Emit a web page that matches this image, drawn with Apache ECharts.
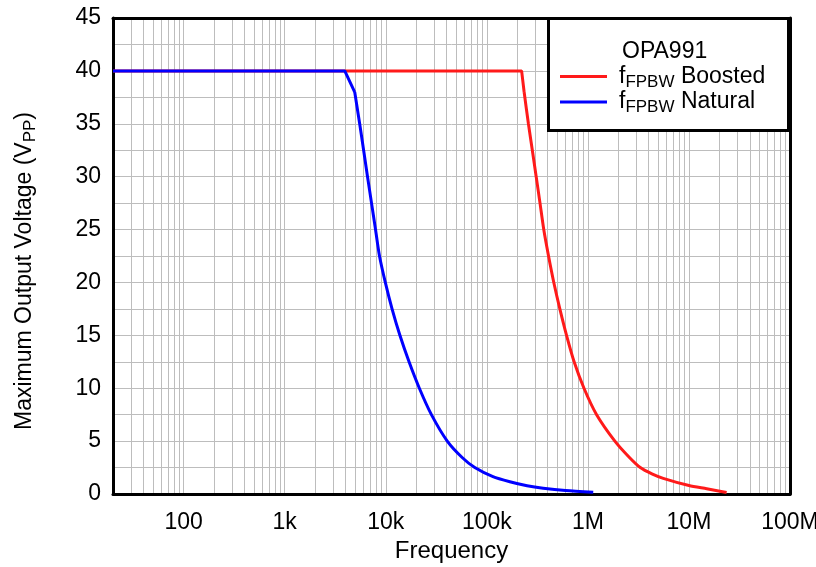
<!DOCTYPE html>
<html>
<head>
<meta charset="utf-8">
<script src="https://cdn.jsdelivr.net/npm/echarts@6/dist/echarts.min.js"></script>
<style>html,body{margin:0;padding:0;background:#fff}#c{width:816px;height:567px}</style>
</head>
<body>
<div id="c"></div>
<script>
// ---- data (frequency in Hz, maximum output voltage in Vpp) ----
// the first 3 points of each curve are the flat limit and the knee (straight), the rest is the roll-off
const naturalFreq = [20, 3930, 4930, 5520, 6040, 6600, 7230, 7920, 8670, 9900, 11540, 13800, 17000, 21500, 28300, 40600, 57000, 76000, 115000, 169000, 250000, 361000, 600000, 1130000];
const naturalV    = [40, 40, 38.0, 35, 32.5, 30, 27.5, 25, 22.5, 20, 17.5, 15, 12.5, 10, 7.5, 5, 3.45, 2.5, 1.64, 1.16, 0.78, 0.54, 0.32, 0.16];
const boostedFreq = [20, 221000, 234000, 258000, 282000, 308000, 336000, 366000, 408000, 460000, 528000, 615000, 731000, 915000, 1220000, 1850000, 2550000, 3300000, 4300000, 5570000, 10000000, 15000000, 23600000];
const boostedV    = [40, 40, 38.0, 35, 32.5, 30, 27.5, 25, 22.5, 20, 17.5, 15, 12.5, 10, 7.5, 5, 3.5, 2.5, 1.9, 1.48, 0.8, 0.5, 0.15];
const kneeCount = 3;
const xTickValues = [100, 1e3, 1e4, 1e5, 1e6, 1e7, 1e8];
const xTickLabels = ['100', '1k', '10k', '100k', '1M', '10M', '100M'];
const yTicks = [0, 5, 10, 15, 20, 25, 30, 35, 40, 45];

const lg = Math.log10;
const xMin = lg(20), xMax = 8;
// log-spaced grid lines
const gridVals = [];
for (let d = 1; d <= 7; d++) for (let k = 1; k <= 9; k++) {
  const f = k * Math.pow(10, d);
  if (f >= 20 && f <= 1e8) gridVals.push(lg(f));
}
gridVals.push(8);

const toPts = (fs, vs) => fs.map((f, i) => [lg(f), vs[i]]);
const labelMap = {};
xTickValues.forEach((v, i) => labelMap[lg(v).toFixed(3)] = xTickLabels[i]);

const natPts = toPts(naturalFreq, naturalV);
const booPts = toPts(boostedFreq, boostedV);

const font = 'Liberation Sans, Arial, sans-serif';
const subRich = {
  m: { fontFamily: font, fontSize: 23, color: '#000', lineHeight: 28 },
  s: { fontFamily: font, fontSize: 17, color: '#000', lineHeight: 16, verticalAlign: 'bottom' },
  g: { width: 7, lineHeight: 28 }
};
const RED = '#ff1a1a', BLUE = '#0000ff';
const lineSeries = (name, data, color, smooth, z) => ({
  name, type: 'line', data, showSymbol: false, smooth,
  lineStyle: { color, width: 3 }, itemStyle: { color }, z
});
const chart = echarts.init(document.getElementById('c'));
chart.setOption({
  animation: false,
  grid: { left: 113, top: 18, right: 26, bottom: 73, containLabel: false, outerBoundsMode: 'none' },
  xAxis: [{
    type: 'value', min: xMin, max: xMax,
    name: 'Frequency', nameLocation: 'middle', nameGap: 45,
    nameTextStyle: { fontFamily: font, fontSize: 24, color: '#000' },
    axisLine: { show: true, lineStyle: { color: '#000', width: 3 } },
    axisTick: { show: false, customValues: gridVals },
    axisLabel: { customValues: xTickValues.map(lg), margin: 17, fontFamily: font, fontSize: 23, color: '#000',
      formatter: v => labelMap[v.toFixed(3)] || '' },
    splitLine: { show: true, lineStyle: { color: '#bdbdbd', width: 1 } }
  }, {
    type: 'value', min: xMin, max: xMax, position: 'top',
    axisLine: { show: true, onZero: false, lineStyle: { color: '#000', width: 3 } },
    axisTick: { show: false }, axisLabel: { show: false }, splitLine: { show: false }
  }],
  yAxis: [{
    type: 'value', min: 0, max: 45, interval: 2.5,
    name: '{m|Maximum Output Voltage (V}{s|PP}{m|)}', nameLocation: 'middle', nameGap: 74,
    nameTextStyle: { fontFamily: font, fontSize: 23, color: '#000', rich: subRich, padding: [0, 30, 0, 0] },
    axisLine: { show: true, lineStyle: { color: '#000', width: 3 } },
    axisTick: { show: false },
    axisLabel: { margin: 12, fontFamily: font, fontSize: 23, color: '#000',
      formatter: v => yTicks.indexOf(v) >= 0 ? String(v) : '' },
    splitLine: { show: true, lineStyle: { color: '#bdbdbd', width: 1 } }
  }, {
    type: 'value', min: 0, max: 45, position: 'right',
    axisLine: { show: true, onZero: false, lineStyle: { color: '#000', width: 3 } },
    axisTick: { show: false }, axisLabel: { show: false }, splitLine: { show: false }
  }],
  legend: {
    orient: 'vertical', left: 555, top: 60, itemGap: 0, z: 30,
    icon: 'rect', itemWidth: 47, itemHeight: 3,
    textStyle: { fontFamily: font, fontSize: 23, color: '#000', rich: subRich },
    formatter: n => n === 'Boosted' ? '{g|}{m|f}{s|FPBW}{m| Boosted}' : '{g|}{m|f}{s|FPBW}{m| Natural}',
    data: ['Boosted', 'Natural']
  },
  graphic: [{
    type: 'rect', left: 547, top: 17, z: 10,
    shape: { width: 240, height: 112 },
    style: { fill: '#fff', stroke: '#000', lineWidth: 3 }
  }, {
    type: 'text', left: 622, top: 40, z: 11,
    style: { text: 'OPA991', fontFamily: font, fontSize: 23, fill: '#000' }
  }],
  series: [
    lineSeries('Boosted', booPts.slice(0, kneeCount), RED, false, 3),
    lineSeries('Boosted', booPts.slice(kneeCount - 1), RED, 0.25, 3),
    lineSeries('Natural', natPts.slice(0, kneeCount), BLUE, false, 4),
    lineSeries('Natural', natPts.slice(kneeCount - 1), BLUE, 0.25, 4)
  ]
});
</script>
</body>
</html>
